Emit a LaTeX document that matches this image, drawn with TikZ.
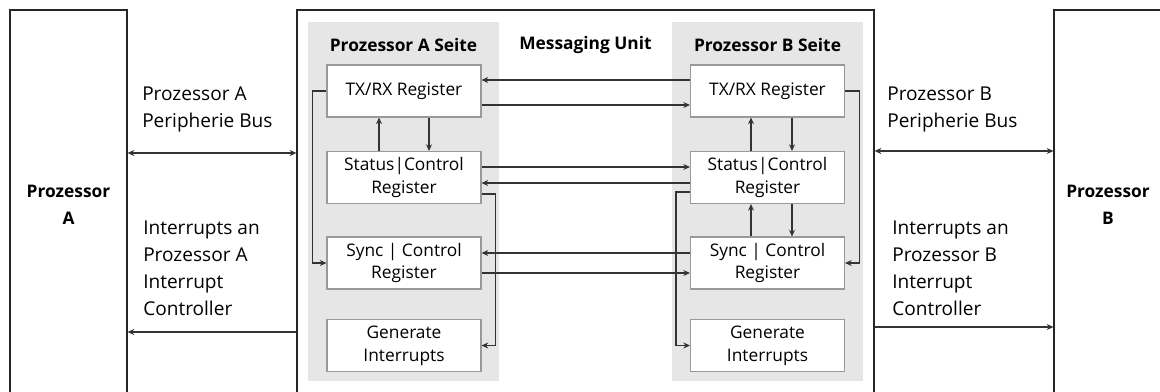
\documentclass[tikz,border=0pt]{standalone}
\usepackage{fontspec}
\setmainfont{Open Sans}
\usetikzlibrary{arrows.meta}

\definecolor{panelgray}{HTML}{E6E6E6}
\definecolor{boxgray}{HTML}{999999}
\definecolor{linegray}{HTML}{333333}

\begin{document}
\begin{tikzpicture}[x=0.75pt,y=-0.75pt,>={Stealth[length=5pt,width=4.5pt]}]

  \useasboundingbox (0,0) rectangle (1160,392);
  \clip (0,0) rectangle (1160,392);

  % processors and the messaging unit (open at the bottom)
  \begin{scope}[every node/.style={draw=black!85,line width=0.9pt,inner sep=0pt,align=center,
      minimum height=292.5pt,font=\bfseries\fontsize{13}{20.25}\selectfont}]
    \node[minimum width=87.75pt] (proca) at (68.5,205) {Prozessor\\A};
    \node[minimum width=81pt]    (procb) at (1108,205) {Prozessor\\B};
    \node[minimum width=432.75pt] (mu)   at (585.5,205) {};
  \end{scope}

  % both sides
  \begin{scope}[every node/.style={fill=panelgray,inner sep=0pt,minimum width=143.25pt,minimum height=269.25pt}]
    \node (sidea) at (403.5,201.5) {};
    \node (sideb) at (767.5,201.5) {};
  \end{scope}

  \begin{scope}[every node/.style={font=\bfseries\fontsize{13}{16}\selectfont}]
    \node (titlea)  at (403.5,45) {Prozessor A Seite};
    \node (titlemu) at (585.5,45) {Messaging Unit};
    \node (titleb)  at (767.5,45) {Prozessor B Seite};
  \end{scope}

  % registers
  \begin{scope}[every node/.style={draw=boxgray,fill=white,line width=0.8pt,inner sep=0pt,
      minimum width=115.5pt,minimum height=39pt,align=center,font=\fontsize{13}{17}\selectfont}]
    \node (txa)  at (404,91)    {TX/RX Register};
    \node (sta)  at (404,177.5) {Status|Control\\Register};
    \node (sya)  at (404,263)   {Sync | Control\\Register};
    \node (gena) at (404,345.5) {Generate\\Interrupts};

    \node (txb)  at (767.5,91)    {TX/RX Register};
    \node (stb)  at (767.5,177.5) {Status|Control\\Register};
    \node (syb)  at (767.5,263)   {Sync | Control\\Register};
    \node (genb) at (767.5,345.5) {Generate\\Interrupts};
  \end{scope}

  % bus and interrupt labels
  \begin{scope}[every node/.style={anchor=west,inner sep=0pt,align=left,font=\fontsize{14.3}{20.25}\selectfont}]
    \node (busa) at (142,109) {Prozessor A\\Peripherie Bus};
    \node (inta) at (143,268) {Interrupts an\\Prozessor A\\Interrupt\\Controller};
    \node (busb) at (887,109) {Prozessor B\\Peripherie Bus};
    \node (intb) at (892,268) {Interrupts an\\Prozessor B\\Interrupt\\Controller};
  \end{scope}

  \begin{scope}[every edge/.style={draw,linegray,line width=0.8pt}]

    % outside the unit
    \path (proca.east |- 0,153) edge[<->] (mu.west |- 0,153);
    \path (mu.west |- 0,332)    edge[->]  (proca.east |- 0,332);
    \path (mu.east |- 0,151)    edge[<->] (procb.west |- 0,151);
    \path (mu.east |- 0,327)    edge[->]  (procb.west |- 0,327);

    % between the sides
    \path (txb.west |- 0,80)  edge[->] (txa.east |- 0,80);
    \path (txa.east |- 0,105) edge[->] (txb.west |- 0,105);
    \path (sta.east |- 0,167) edge[->] (stb.west |- 0,167);
    \path (stb.west |- 0,183) edge[->] (sta.east |- 0,183);
    \path (syb.west |- 0,253) edge[->] (sya.east |- 0,253);
    \path (sya.east |- 0,273) edge[->] (syb.west |- 0,273);

    % inside a side
    \path (sta.north -| 379,0) edge[->] (txa.south -| 379,0);
    \path (txa.south -| 429,0) edge[->] (sta.north -| 429,0);
    \path (stb.north -| 751,0) edge[->] (txb.south -| 751,0);
    \path (txb.south -| 792,0) edge[->] (stb.north -| 792,0);
    \path (syb.north -| 751,0) edge[->] (stb.south -| 751,0);
    \path (stb.south -| 792,0) edge[->] (syb.north -| 792,0);

  \end{scope}

  \begin{scope}[linegray,line width=0.8pt]
    \draw[->] (txa.west) -- ++(-14,0) |- (sya.west);
    \draw[->] (sta.east |- 0,194) -- ++(14,0) |- (gena.east);
    \draw[->] (txb.east) -- ++(14,0) |- (syb.east);
    \draw[->] (stb.west |- 0,192) -- ++(-14,0) |- (genb.west);
  \end{scope}

\end{tikzpicture}
\end{document}
